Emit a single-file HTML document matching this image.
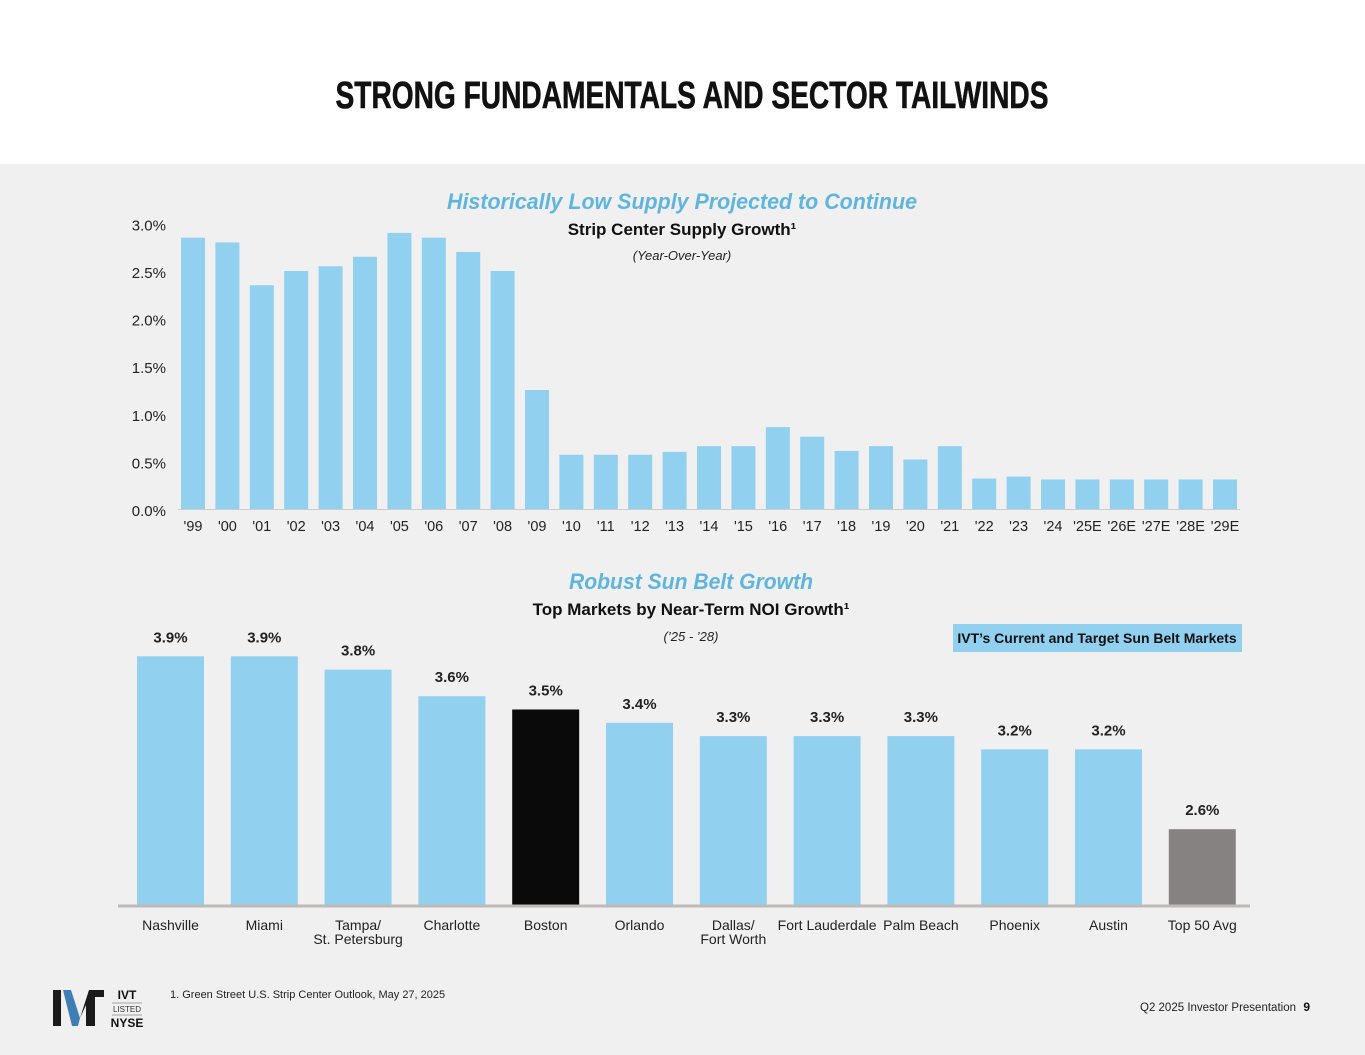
<!DOCTYPE html>
<html><head><meta charset="utf-8"><style>
body{margin:0;background:#fff}
svg{display:block;font-family:"Liberation Sans",sans-serif}
</style></head><body>
<svg width="1365" height="1055" viewBox="0 0 1365 1055">
<rect x="0" y="0" width="1365" height="164" fill="#fff"/>
<rect x="0" y="164" width="1365" height="891" fill="#f0f0f0"/>
<text x="692" y="108" text-anchor="middle" font-family="Liberation Sans Narrow, Liberation Sans, sans-serif" font-weight="bold" font-size="38" textLength="713" lengthAdjust="spacingAndGlyphs" fill="#111" stroke="#111" stroke-width="0.6">STRONG FUNDAMENTALS AND SECTOR TAILWINDS</text>

<text x="682" y="209" text-anchor="middle" font-weight="bold" font-style="italic" font-size="22" fill="#5fb5dd" textLength="470" lengthAdjust="spacingAndGlyphs">Historically Low Supply Projected to Continue</text>
<text x="682" y="235" text-anchor="middle" font-weight="bold" font-size="17" fill="#111">Strip Center Supply Growth¹</text>
<text x="682" y="260" text-anchor="middle" font-style="italic" font-size="13" fill="#222">(Year-Over-Year)</text>
<g id="topchart"></g>

<text x="691" y="589" text-anchor="middle" font-weight="bold" font-style="italic" font-size="22" fill="#5fb5dd" textLength="244" lengthAdjust="spacingAndGlyphs">Robust Sun Belt Growth</text>
<text x="691" y="615" text-anchor="middle" font-weight="bold" font-size="17" fill="#111">Top Markets by Near-Term NOI Growth¹</text>
<text x="691" y="641" text-anchor="middle" font-style="italic" font-size="13" fill="#222">(’25 - ’28)</text>
<g>
<rect x="953" y="624" width="289" height="28" fill="#92d0f0"/>
<text x="1097" y="643" text-anchor="middle" font-weight="bold" font-size="14" fill="#111">IVT’s Current and Target Sun Belt Markets</text>
</g>
<g id="bottomchart"></g>

<g>
<polygon points="53,990 61,990 61,1026 53,1026" fill="#1a1a1a"/>
<polygon points="63,990 71,990 80,1018 78,1026 72,1026" fill="#3d7fb5"/>
<polygon points="80,1018 89,990 104,990 104,997 95,997 95,1026 86,1026 86,1005" fill="#1a1a1a"/>
<text x="127" y="999" text-anchor="middle" font-weight="bold" font-size="12" fill="#111">IVT</text>
<line x1="112" y1="1003" x2="142" y2="1003" stroke="#888" stroke-width="0.7"/>
<text x="127" y="1012" text-anchor="middle" font-size="8" fill="#333">LISTED</text>
<line x1="112" y1="1015" x2="142" y2="1015" stroke="#888" stroke-width="0.7"/>
<text x="127" y="1027" text-anchor="middle" font-weight="bold" font-size="12" fill="#111">NYSE</text>
</g>
<text x="170" y="998" font-size="11" fill="#222">1.  Green Street U.S. Strip Center Outlook, May 27, 2025</text>
<text x="1296" y="1011" text-anchor="end" font-size="11.5" fill="#222">Q2 2025 Investor Presentation</text>
<text x="1310" y="1011" text-anchor="end" font-weight="bold" font-size="12" fill="#111">9</text>
</svg>
<script>
const years=["'99","'00","'01","'02","'03","'04","'05","'06","'07","'08","'09","'10","'11","'12","'13","'14","'15","'16","'17","'18","'19","'20","'21","'22","'23","'24","'25E","'26E","'27E","'28E","'29E"];
const supply=[2.85,2.8,2.35,2.5,2.55,2.65,2.9,2.85,2.7,2.5,1.25,0.57,0.57,0.57,0.6,0.66,0.66,0.86,0.76,0.61,0.66,0.52,0.66,0.32,0.34,0.31,0.31,0.31,0.31,0.31,0.31];
const yTicks=["0.0%","0.5%","1.0%","1.5%","2.0%","2.5%","3.0%"];
const yTickVals=[0,0.5,1,1.5,2,2.5,3];
const markets=["Nashville","Miami","Tampa/|St. Petersburg","Charlotte","Boston","Orlando","Dallas/|Fort Worth","Fort Lauderdale","Palm Beach","Phoenix","Austin","Top 50 Avg"];
const noi=[3.9,3.9,3.8,3.6,3.5,3.4,3.3,3.3,3.3,3.2,3.2,2.6];
const noiLabels=["3.9%","3.9%","3.8%","3.6%","3.5%","3.4%","3.3%","3.3%","3.3%","3.2%","3.2%","2.6%"];
const NS="http://www.w3.org/2000/svg";
function mk(t,a,p,txt){const e=document.createElementNS(NS,t);for(const k in a)e.setAttribute(k,a[k]);if(txt!=null)e.textContent=txt;p.appendChild(e);return e;}
const topG=document.getElementById('topchart');
const ty=v=>509-v*95.2, tx=i=>181+i*34.4;
yTickVals.forEach((v,i)=>{const t=mk('text',{x:166,y:ty(v)+7,'text-anchor':'end','font-size':15,fill:'#222'},topG,yTicks[i]);

});
mk('line',{x1:178,y1:509.5,x2:1240,y2:509.5,stroke:'#ccc','stroke-width':1},topG);
supply.forEach((v,i)=>{const r=mk('rect',{x:tx(i),y:ty(v),width:24,height:v*95.2,fill:'#92d0f0'},topG);


const t=mk('text',{x:tx(i)+12,y:531,'text-anchor':'middle','font-size':14.5,fill:'#222'},topG,years[i]);

});
const botG=document.getElementById('bottomchart');
const base=905,vmin=2.03,sc=133,bx=i=>137+i*93.8;
const colorFor=i=>i===4?'#0a0a0a':(i===11?'#858281':'#92d0f0');
noi.forEach((v,i)=>{const h=(v-vmin)*sc;
const r=mk('rect',{x:bx(i),y:base-h,width:67,height:h,fill:colorFor(i)},botG);


const t=mk('text',{x:bx(i)+33.5,y:base-h-14,'text-anchor':'middle','font-weight':'bold','font-size':15,fill:'#222'},botG,noiLabels[i]);


markets[i].split('|').forEach((ln,j)=>{const c=mk('text',{x:bx(i)+33.5,y:930+j*14,'text-anchor':'middle','font-size':14,fill:'#222'},botG,ln);

});});
mk('line',{x1:118,y1:906,x2:1250,y2:906,stroke:'#bdbab8','stroke-width':3},botG);
</script>
</body></html>
